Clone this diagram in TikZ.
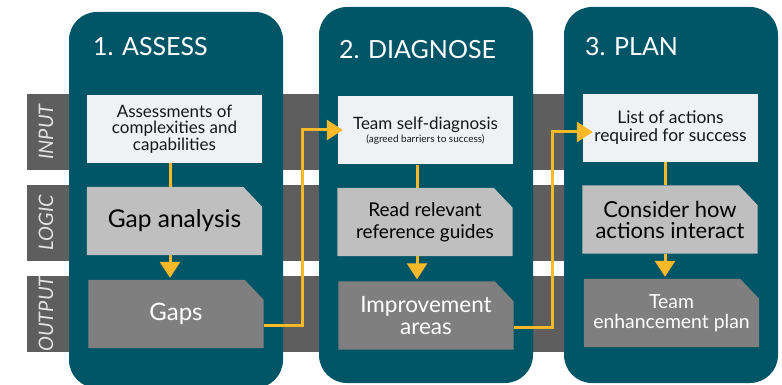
\documentclass[tikz,border=0pt]{standalone}
\usepackage{fontspec}
\setmainfont{Lato}
\usetikzlibrary{arrows.meta,calc}
\definecolor{colTeal}{HTML}{005566}
\definecolor{colBand}{HTML}{5E5E5E}
\definecolor{colIn}{HTML}{EEF2F5}
\definecolor{colLogic}{HTML}{BFBFBF}
\definecolor{colOut}{HTML}{7F7F7F}
\definecolor{colYel}{HTML}{FBB829}
\definecolor{colLab}{HTML}{E2E2E2}
\definecolor{colInk}{HTML}{161616}
\pgfdeclarelayer{back}
\pgfdeclarelayer{boxes}
\pgfsetlayers{back,boxes,main}
\newcommand\cutfill[2]{%
  \fill[#2] (#1.south west) -- (#1.north west) -- ([xshift=-19pt]#1.north east)
    -- ([yshift=-20pt]#1.north east) -- (#1.south east) -- cycle;}
\begin{document}
\begin{tikzpicture}[x=1pt,y=-1pt,
  band/.style={fill=colBand, draw=none, minimum width=751pt, minimum height=76pt, inner sep=0pt, anchor=north west},
  tablabel/.style={rotate=90, text=colLab, font={\fontsize{20}{20}\selectfont\itshape}, inner sep=0pt},
  column/.style={fill=colTeal, draw=none, rounded corners=28pt, minimum width=214pt, minimum height=376pt, inner sep=0pt},
  title/.style={anchor=base west, text=white, font={\fontsize{25}{25}\selectfont}, inner sep=0pt},
  inbox/.style={fill=colIn, draw=none, minimum width=175pt, minimum height=68pt, inner sep=0pt, align=center, text=colInk, font={\fontsize{17}{16.5}\selectfont}},
  cutbox/.style={draw=none, minimum width=175pt, minimum height=68pt, inner sep=0pt, align=center},
  logictext/.style={text=black},
  outtext/.style={text=white},
  link/.style={draw=colYel, line width=3pt},
  arrowlink/.style={link, -{Triangle[width=20pt,length=16pt]}},
]
\useasboundingbox (0,0) rectangle (782,385);

\begin{pgfonlayer}{back}
\node[band] (B1) at (27,94) {};
\node[band] (B2) at (27,185) {};
\node[band] (B3) at (27,276) {};
\node[column] (C1) at (176,200) {};
\node[column] (C2) at (426,195) {};
\node[column] (C3) at (671,195) {};
\end{pgfonlayer}

\node[tablabel] (TL1) at (46,132) {INPUT};
\node[tablabel] (TL2) at (46,222.5) {LOGIC};
\node[tablabel] (TL3) at (46,314) {OUTPUT};

\node[title] (T1) at (93,56) {1. ASSESS};
\node[title] (T2) at (339,59) {2. DIAGNOSE};
\node[title] (T3) at (585,56) {3. PLAN};

\node[inbox] (I1) at (174.5,129) {Assessments of\\complexities and\\capabilities};
\node[inbox] (I2) at (425.5,130.5) {Team self-diagnosis\\[-3pt]{\fontsize{10}{11}\selectfont(agreed barriers to success)}};
\node[inbox, font={\fontsize{17.4}{18}\selectfont}] (I3) at (670.5,128) {List of actions\\required for success};

\node[cutbox, logictext, font={\fontsize{24.5}{26}\selectfont}] (L1) at (174.5,221) {Gap analysis};
\node[cutbox, logictext, font={\fontsize{19}{21.5}\selectfont}] (L2) at (425,222) {Read relevant\\reference guides};
\node[cutbox, logictext, font={\fontsize{22}{21}\selectfont}] (L3) at (670,219.5) {Consider how\\actions interact};

\node[cutbox, outtext, font={\fontsize{24}{26}\selectfont}] (O1) at (176,314) {Gaps};
\node[cutbox, outtext, font={\fontsize{22.5}{22}\selectfont}] (O2) at (426,315.5) {Improvement\\areas};
\node[cutbox, outtext, font={\fontsize{19.4}{19.5}\selectfont}] (O3) at (671.5,313) {Team\\enhancement plan};

\begin{pgfonlayer}{boxes}
\cutfill{L1}{colLogic}
\cutfill{L2}{colLogic}
\cutfill{L3}{colLogic}
\cutfill{O1}{colOut}
\cutfill{O2}{colOut}
\cutfill{O3}{colOut}
\end{pgfonlayer}

\draw[link] ([xshift=-4.5pt]I1.south) -- ([xshift=-4.5pt]L1.north);
\draw[link] ([xshift=-8.5pt]I2.south) -- ([xshift=-8pt]L2.north);
\draw[link] ([xshift=-5.5pt]I3.south) -- ([xshift=-5pt]L3.north);
\draw[arrowlink] ([xshift=-4.5pt]L1.south) -- ([xshift=-6pt,yshift=2pt]O1.north);
\draw[arrowlink] ([xshift=-8pt]L2.south) -- ([xshift=-9pt,yshift=2pt]O2.north);
\draw[arrowlink] ([xshift=-5pt]L3.south) -- ([xshift=-6.5pt,yshift=2pt]O3.north);

\draw[arrowlink] ([yshift=-11pt]O1.east) -- ++(38.5,0) |- ([xshift=5pt,yshift=0.5pt]I2.west);
\draw[arrowlink] ([yshift=-11.5pt]O2.east) -- ++(39,0) |- ([xshift=10pt,yshift=-4pt]I3.west);
\end{tikzpicture}
\end{document}
